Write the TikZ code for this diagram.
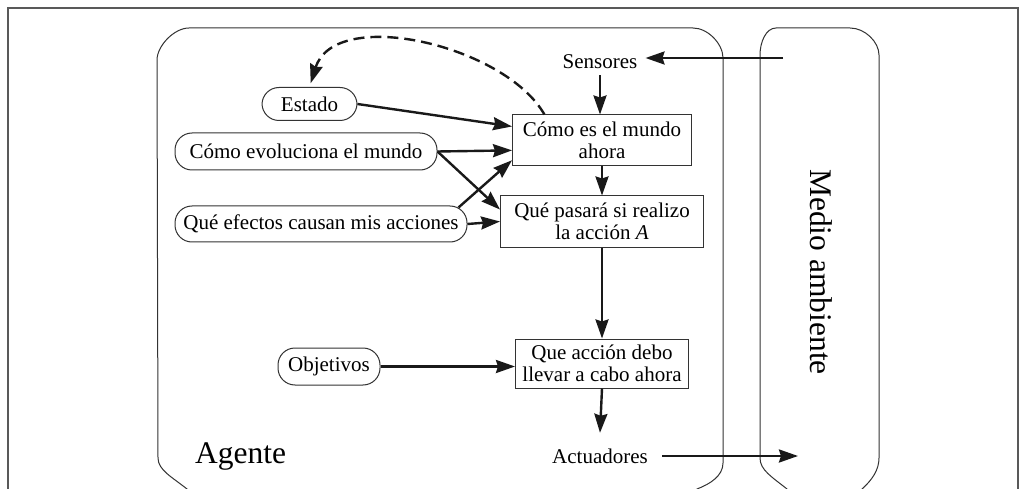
\documentclass[tikz,border=0pt]{standalone}
\usepackage{fontspec}
\setmainfont{Liberation Serif}
\usetikzlibrary{arrows.meta,calc}
\begin{document}
\begin{tikzpicture}[x=1pt,y=-1pt,
  outline/.style={draw=black!80,line width=1pt},
  arr/.style={draw=black!90,line width=2.4pt,-{Stealth[length=19pt,width=13pt,inset=2pt]}},
  lbl/.style={font=\fontsize{21}{21.5}\selectfont,inner sep=0pt},
  box/.style={lbl,draw=black!80,line width=1pt,align=center,minimum height=51pt},
  pill/.style={lbl,draw=black!80,line width=1pt,rounded corners=17pt,minimum height=35pt},
  big/.style={font=\fontsize{31.5}{33}\selectfont,inner sep=0pt}]

\useasboundingbox (0,0) rectangle (1028,489);
\clip (0,0) rectangle (1028,489);
\fill[white] (0,0) rectangle (1028,489);

% page frame
\draw[draw=black!65,line width=1.3pt] (8,500) -- (8,8) -- (1018,8) -- (1018,500);

% agent outline
\draw[outline] (200,500) -- (187,489) .. controls (172,477) and (158,470) .. (158,458)
  -- (157,60) .. controls (157,46) and (174,28) .. (189,28) -- (693,28)
  .. controls (708,28) and (723,44) .. (723,58) -- (723,463)
  .. controls (723,476) and (710,484) .. (697,489) -- (687,500);

% environment outline
\draw[outline] (797,500) -- (787,489) .. controls (772,477) and (760,470) .. (760,458)
  -- (760,55) .. controls (760,42) and (766,28) .. (776,28) -- (850,28)
  .. controls (865,28) and (879,42) .. (879,55) -- (879,458)
  .. controls (879,470) and (872,480) .. (862,489) -- (852,500);

% processing boxes
\node[box,minimum width=179pt] (now) at (602,140.5) {Cómo es el mundo\\ahora};
\node[box,minimum width=203pt] (what) at (602,221.5) {Qué pasará si realizo\\la acción \textit{A}};
\node[box,minimum width=173pt,minimum height=49pt] (act) at (602,363.5) {Que acción debo\\llevar a cabo ahora};

% sensors / actuators
\node[lbl,inner xsep=8pt,minimum height=26pt] (sens) at (600,62) {Sensores};
\node[lbl,inner xsep=8pt,minimum height=46pt] (actu) at (600,456) {Actuadores};

% knowledge items
\node[pill,minimum width=95pt,minimum height=33pt] (state) at (309.5,104) {Estado};
\node[pill,minimum width=262pt,minimum height=37pt] (evo) at (306,151.5) {Cómo evoluciona el mundo};
\node[pill,minimum width=292pt,minimum height=36pt] (eff) at (321,224) {Qué efectos causan mis acciones};
\node[pill,minimum width=102pt,minimum height=37pt] (goal) at (329,366.5) {Objetivos};

% titles
\node[big,anchor=base west] (agent) at (195,463) {Agente};
\node[big,rotate=-90] (env) at (821,272) {Medio ambiente};

% connectors
\coordinate (envin) at (783,58);
\coordinate (envout) at (798,456);
\draw[arr] (envin) -- (sens.east |- envin);
\draw[arr] (sens.south) -- (sens.south |- now.north);
\draw[arr] (now.south) -- (what.north);
\draw[arr] (what.south) -- (act.north);
\draw[arr] (act.south) -- (actu.north);
\draw[arr,shorten <=6pt] (actu.east |- envout) -- (envout);
\draw[arr] (state.east) -- ($(now.north west)!0.23!(now.south west)$);
\draw[arr] (evo.east) -- ($(now.north west)!0.69!(now.south west)$);
\draw[arr] (evo.east) -- ($(what.north west)!0.27!(what.south west)$);
\draw[arr] ($(eff.north east)+(-9,2)$) -- ($(now.north west)!0.88!(now.south west)$);
\draw[arr] (eff.east) -- (what.west);
\draw[arr] (goal.east) -- (goal.east -| act.west);
\draw[arr,dash pattern=on 11pt off 6pt,shorten >=4pt]
  ($(now.north west)!0.18!(now.north east)$) .. controls (505,45) and (335,6) .. (state.north);
\end{tikzpicture}
\end{document}
